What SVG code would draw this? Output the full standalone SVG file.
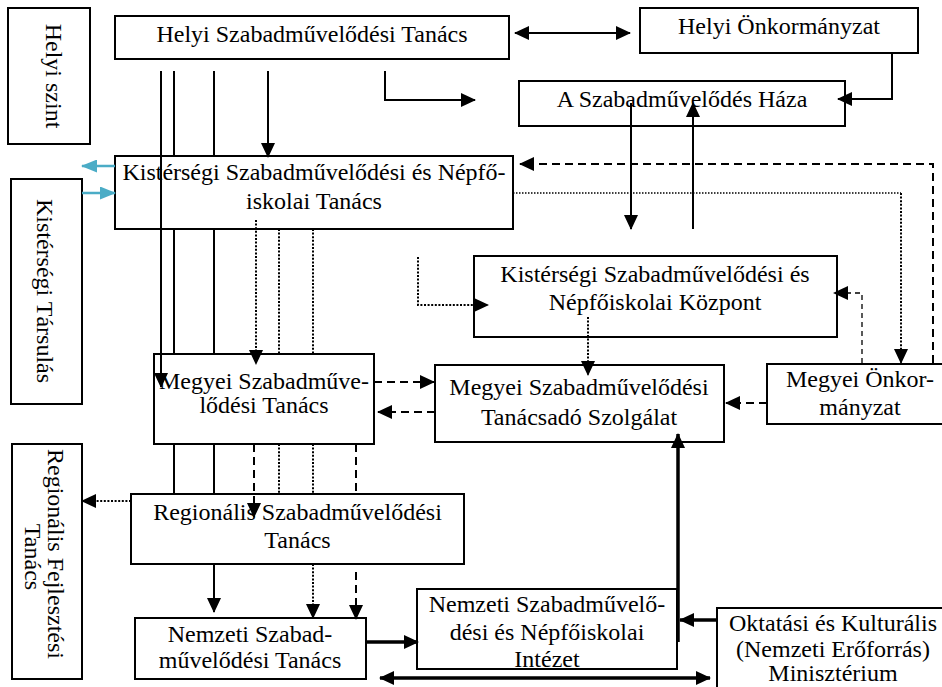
<svg xmlns="http://www.w3.org/2000/svg" width="942" height="687" viewBox="0 0 942 687">
<style>
  .box{fill:#fff;stroke:#000;stroke-width:2}
  .t text{font-size:24px;fill:#000;text-anchor:middle}
  .c{fill:none;stroke:#000;stroke-width:2}
  .thick{stroke-width:3.5}
  .dash{stroke-dasharray:8 5}
  .tdash{stroke-width:1.3;stroke-dasharray:5 4}
  .dot{stroke-dasharray:2 1.6}
  .tdot{stroke-width:1.5;stroke-dasharray:1.5 1.5}
  .cy{fill:none;stroke:#4BACC6;stroke-width:2.5}
  .ae{marker-end:url(#ah)}
  .ab{marker-start:url(#ah);marker-end:url(#ah)}
  .ce{marker-end:url(#ahc)}
</style>
<defs>
  <marker id="ah" viewBox="0 0 15 14" refX="14" refY="7" markerWidth="15" markerHeight="14" orient="auto-start-reverse" markerUnits="userSpaceOnUse">
    <path d="M0,0 L15,7 L0,14 z" fill="#000"/>
  </marker>
  <marker id="ahc" viewBox="0 0 16 13" refX="15" refY="6.5" markerWidth="16" markerHeight="13" orient="auto" markerUnits="userSpaceOnUse">
    <path d="M0,0 L16,6.5 L0,13 z" fill="#4BACC6"/>
  </marker>
</defs>
<rect width="942" height="687" fill="#fff"/>

<g id="nodes" class="t" font-family="'Liberation Serif', 'Times New Roman', Times, 'DejaVu Serif', serif">
  <g id="n-helyi-szint">
    <rect class="box" x="8" y="8" width="82" height="136"/>
    <text transform="translate(46,76) rotate(90)">Helyi szint</text>
  </g>
  <g id="n-helyi-tanacs">
    <rect class="box" x="115" y="16" width="394" height="43"/>
    <text x="312" y="42">Helyi Szabadművelődési Tanács</text>
  </g>
  <g id="n-helyi-onk">
    <rect class="box" x="640" y="8" width="278" height="45"/>
    <text x="779" y="34">Helyi Önkormányzat</text>
  </g>
  <g id="n-haza">
    <rect class="box" x="519" y="81" width="326" height="45"/>
    <text x="682" y="107">A Szabadművelődés Háza</text>
  </g>
  <g id="n-kist-tanacs">
    <rect class="box" x="115" y="156" width="398" height="73"/>
    <text x="314" y="180">Kistérségi Szabadművelődési és Népfő-</text>
    <text x="314" y="209">iskolai Tanács</text>
  </g>
  <g id="n-kist-tars">
    <rect class="box" x="11" y="179" width="71" height="225"/>
    <text transform="translate(37,291) rotate(90)">Kistérségi Társulás</text>
  </g>
  <g id="n-kist-kozpont">
    <rect class="box" x="474" y="256" width="363" height="81"/>
    <text x="655" y="282">Kistérségi Szabadművelődési és</text>
    <text x="655" y="310">Népfőiskolai Központ</text>
  </g>
  <g id="n-megyei-tanacs">
    <rect class="box" x="154" y="354" width="220" height="90"/>
    <text x="264" y="389">Megyei Szabadműve-</text>
    <text x="264" y="413">lődési Tanács</text>
  </g>
  <g id="n-tanacsado">
    <rect class="box" x="435" y="365" width="289" height="77"/>
    <text x="579" y="395">Megyei Szabadművelődési</text>
    <text x="579" y="425">Tanácsadó Szolgálat</text>
  </g>
  <g id="n-megyei-onk">
    <rect class="box" x="767" y="364" width="190" height="60"/>
    <text x="860" y="387">Megyei Önkor-</text>
    <text x="860" y="415">mányzat</text>
  </g>
  <g id="n-reg-fejl">
    <rect class="box" x="12" y="444" width="70" height="235"/>
    <text transform="translate(48,557) rotate(90)">
      <tspan x="0" y="0">Regionális Fejlesztési</tspan>
      <tspan x="0" y="23">Tanács</tspan>
    </text>
  </g>
  <g id="n-regionalis">
    <rect class="box" x="131" y="494" width="333" height="70"/>
    <text x="297.5" y="520">Regionális Szabadművelődési</text>
    <text x="297.5" y="548">Tanács</text>
  </g>
  <g id="n-nemzeti-tanacs">
    <rect class="box" x="135" y="618" width="231" height="61"/>
    <text x="250" y="642">Nemzeti Szabad-</text>
    <text x="250" y="668">művelődési Tanács</text>
  </g>
  <g id="n-intezet">
    <rect class="box" x="417" y="589" width="260" height="80"/>
    <text x="547" y="612">Nemzeti Szabadművelő-</text>
    <text x="547" y="640">dési és Népfőiskolai</text>
    <text x="547" y="667">Intézet</text>
  </g>
  <g id="n-oktatasi">
    <rect class="box" x="717" y="608" width="240" height="92"/>
    <text x="833" y="631">Oktatási és Kulturális</text>
    <text x="833" y="657">(Nemzeti Erőforrás)</text>
    <text x="833" y="681">Minisztérium</text>
  </g>
</g>

<g id="connectors">
  <path class="c ae" d="M161,71 V387"/>
  <path class="c" d="M174,71 V156 M174,229 V354 M174,444 V494 M167,494 H182"/>
  <path class="c ae" d="M214,71 V156 M214,229 V354 M214,444 V494 M214,564 V612"/>
  <path class="c ae" d="M268,71 V157"/>
  <path class="c ae" d="M385,71 V100 H475"/>
  <path class="c ab" d="M515,33 H630"/>
  <path class="c ae" d="M892,54 V99 H838"/>
  <path class="c ae" d="M631,103 V229"/>
  <path class="c ae" d="M693,229 V103"/>
  <path class="cy ce" d="M115,166 H82"/>
  <path class="cy ce" d="M82,193 H115"/>
  <path class="c dash ae" d="M933,363 V164 H520"/>
  <path class="c dash ae" d="M374,382 H434"/>
  <path class="c dash ae" d="M435,412 H378"/>
  <path class="c dash ae" d="M767,403 H726"/>
  <path class="c tdash ae" d="M862,363 V293 H834"/>
  <path class="c dash ae" d="M254,444 V517"/>
  <path class="c dash ae" d="M356,444 V494 M356,572 V619"/>
  <path class="c tdot" d="M513,193 H901"/>
  <path class="c dot ae" d="M901,193 V363"/>
  <path class="c dot ae" d="M256,220 V364"/>
  <path class="c dot" d="M279,229 V354 M279,444 V494"/>
  <path class="c" d="M272,494 H287"/>
  <path class="c dot ae" d="M313,229 V354 M313,444 V494 M313,564 V618"/>
  <path class="c dot ae" d="M418,257 V305 H488"/>
  <path class="c dot ae" d="M588,317 V375"/>
  <path class="c dot ae" d="M131,501 H82"/>
  <path class="c thick ae" d="M678,642 V434"/>
  <path class="c thick ae" d="M366,642 H418"/>
  <path class="c thick ae" d="M717,620 H680"/>
  <path class="c thick ab" d="M380,678 H710"/>
</g>
</svg>
